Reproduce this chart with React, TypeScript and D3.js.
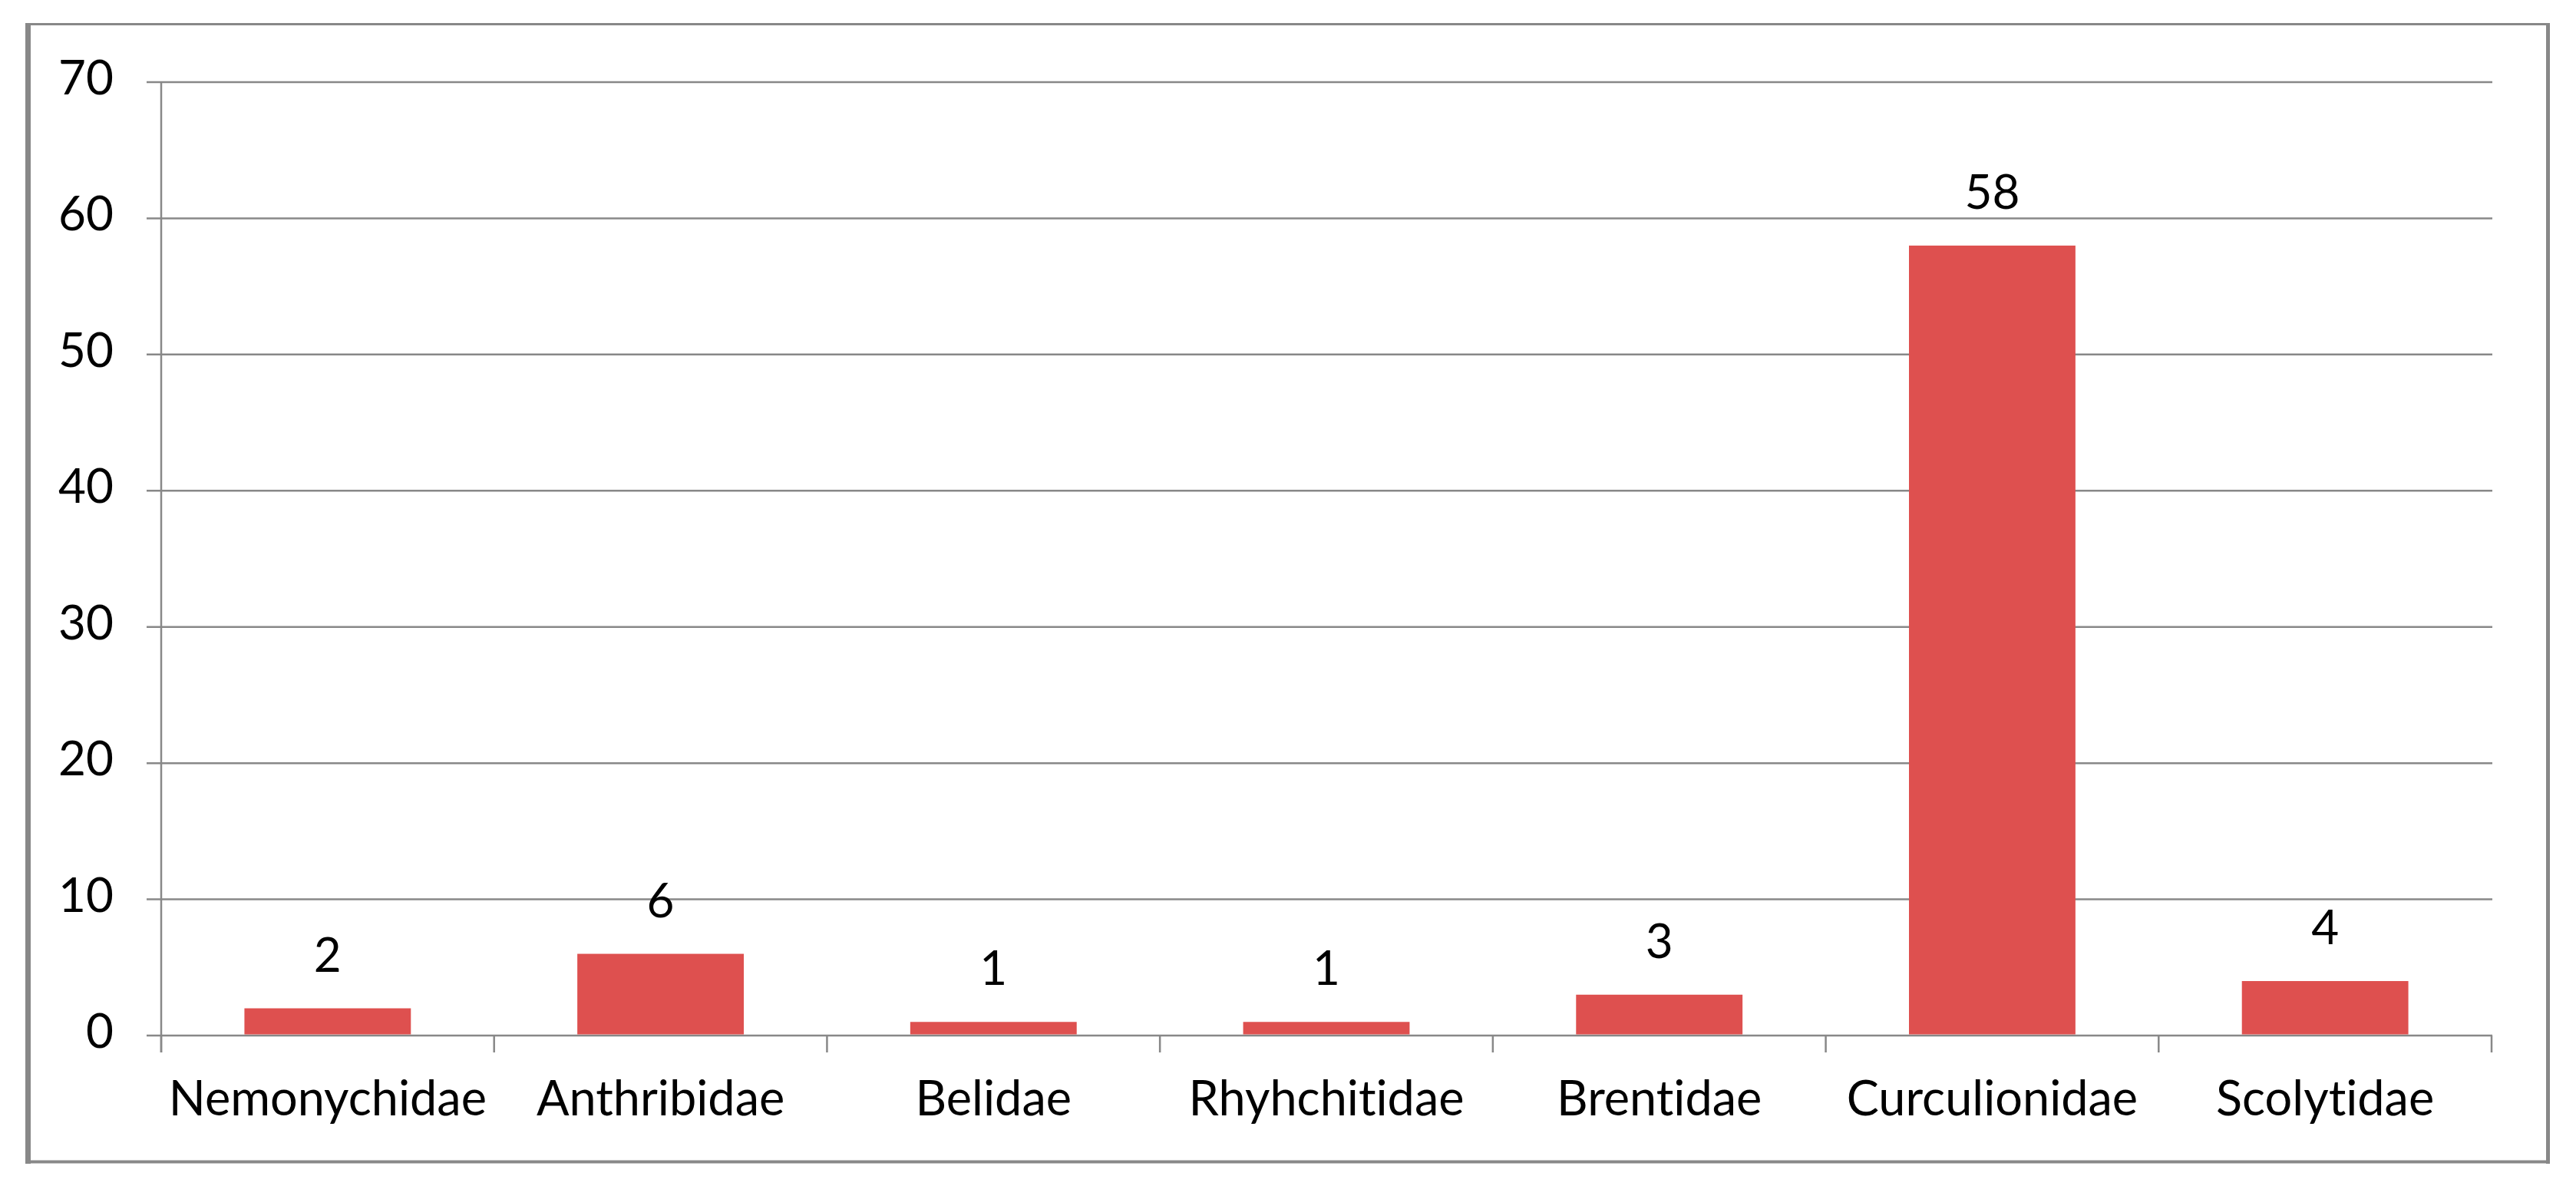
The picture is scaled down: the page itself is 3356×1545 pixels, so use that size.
import React from 'react';
import { scaleBand, scaleLinear, range } from 'd3';

// weevil families, counts
const families = ['Nemonychidae', 'Anthribidae', 'Belidae', 'Rhyhchitidae', 'Brentidae', 'Curculionidae', 'Scolytidae'];
const counts = [2, 6, 1, 1, 3, 58, 4];
const yTicks = [0, 10, 20, 30, 40, 50, 60, 70];

const W = 3356;
const H = 1545;
const plot = { left: 210, right: 3246, top: 107, bottom: 1349 };
const font = 'Lato, "Open Sans", sans-serif';
const gray = '#888888';
const barColor = '#DE504F';
const textStyle = { fontVariantLigatures: 'none' as const };

export default function App() {
  const x = scaleBand<string>()
    .domain(families)
    .range([plot.left, plot.right])
    .paddingInner(0.5)
    .paddingOuter(0.25);

  const y = scaleLinear().domain([0, 70]).range([plot.bottom, plot.top]);

  const step = (plot.right - plot.left) / families.length;
  const boundaries = range(families.length + 1).map((i) => plot.left + i * step);

  return (
    <svg width={W} height={H} style={{ position: 'absolute', left: 0, top: 0 }}>
      <rect x={0} y={0} width={W} height={H} fill="#fff" />

      {/* outer chart frame */}
      <line x1={33} x2={3322} y1={31.5} y2={31.5} stroke={gray} strokeWidth={3} />
      <line x1={3319.5} x2={3319.5} y1={30} y2={1516} stroke={gray} strokeWidth={5} />
      <line x1={33} x2={3322} y1={1513.5} y2={1513.5} stroke={gray} strokeWidth={4} />
      <line x1={36.5} x2={36.5} y1={30} y2={1516} stroke={gray} strokeWidth={7} />

      {/* gridlines + y ticks */}
      {yTicks.map((t) => (
        <g key={t}>
          <line x1={plot.left - 19} x2={plot.right + 1} y1={y(t)} y2={y(t)} stroke={gray} strokeWidth={2.5} />
          <text x={148} y={y(t) + 16} textAnchor="end" fontFamily={font} fontSize={62} fill="#000" style={textStyle}>
            {t}
          </text>
        </g>
      ))}

      {/* y axis line */}
      <line x1={plot.left} x2={plot.left} y1={plot.top} y2={plot.bottom + 22} stroke={gray} strokeWidth={2.5} />

      {/* category ticks */}
      {boundaries.map((b, i) => (
        <line key={i} x1={b} x2={b} y1={plot.bottom} y2={plot.bottom + 22} stroke={gray} strokeWidth={2.5} />
      ))}

      {/* bars */}
      {families.map((f, i) => (
        <rect
          key={f}
          x={x(f)}
          y={y(counts[i])}
          width={x.bandwidth()}
          height={y(0) - y(counts[i]) - 1.5}
          fill={barColor}
        />
      ))}

      {/* value labels */}
      {families.map((f, i) => (
        <text
          key={f}
          x={(x(f) || 0) + x.bandwidth() / 2}
          y={y(counts[i]) - 48}
          textAnchor="middle"
          fontFamily={font}
          fontSize={62}
          fill="#000"
          style={textStyle}
        >
          {counts[i]}
        </text>
      ))}

      {/* category labels */}
      {families.map((f) => (
        <text
          key={f}
          x={(x(f) || 0) + x.bandwidth() / 2}
          y={1453}
          textAnchor="middle"
          fontFamily={font}
          fontSize={63}
          fill="#000"
          style={textStyle}
        >
          {f}
        </text>
      ))}
    </svg>
  );
}
